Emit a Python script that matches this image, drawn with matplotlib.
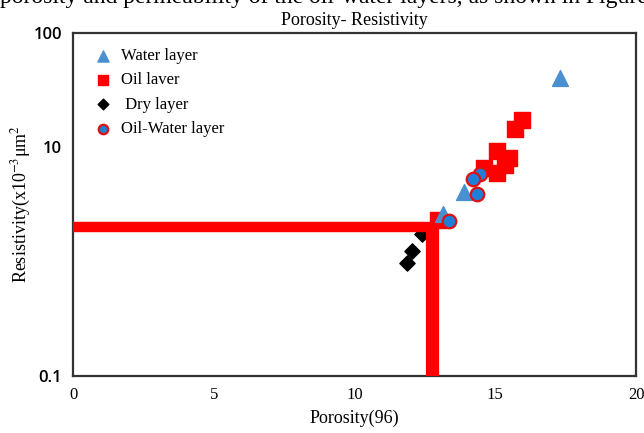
import matplotlib
matplotlib.use("Agg")
import matplotlib.pyplot as plt
from matplotlib.ticker import FixedLocator, NullLocator, FixedFormatter

plt.rcParams["mathtext.fontset"] = "stix"

# Porosity (%) and resistivity for each layer type
water_por = [17.3, 13.9, 13.15]
water_res = [40.0, 4.1, 2.6]

oil_por = [15.95, 15.7, 15.05, 15.5, 15.35, 15.05, 14.6, 12.95]
oil_res = [17.5, 14.5, 9.3, 8.0, 7.0, 6.0, 6.6, 2.3]

dry_por = [12.05, 11.85, 12.4]
dry_res = [1.25, 0.97, 1.75]

ow_por = [14.45, 14.2, 14.35, 13.35]
ow_res = [5.9, 5.25, 3.9, 2.25]

# Cut-off values
por_cutoff = 12.75
res_cutoff = 2.0

x_ticks = [0, 5, 10, 15, 20]
y_ticks = [0.1, 10, 100]
y_tick_labels = ["0.1", "10", "100"]

serif = "Liberation Serif"

fig = plt.figure(figsize=(6.44, 4.33), dpi=100)
ax = fig.add_axes([0.1134, 0.1316, 0.8742, 0.7922])

ax.set_xlim(0, 20)
ax.set_yscale("log")
ax.set_ylim(0.1, 100)

# cut-off lines
ax.plot([0, por_cutoff], [res_cutoff, res_cutoff], color="#ff0000", lw=7.5,
        solid_capstyle="butt", zorder=3)
ax.plot([por_cutoff, por_cutoff], [0.1, res_cutoff * 1.06], color="#ff0000", lw=9.5,
        solid_capstyle="butt", zorder=3)

ax.scatter(dry_por, dry_res, marker="D", s=60, color="black", zorder=2,
           label=" Dry layer")
ax.scatter(oil_por, oil_res, marker="s", s=125, color="#ff0000", zorder=2,
           label="Oil laver")
ax.scatter(water_por, water_res, marker="^", s=130, color="#4a90d0", zorder=4,
           label="Water layer")
ax.scatter(ow_por, ow_res, marker="o", s=95, facecolor="#1f7fd8",
           edgecolor="#e01010", linewidths=1.6, zorder=5,
           label="Oil-Water layer")

handles, labels = ax.get_legend_handles_labels()
order = [2, 1, 0, 3]
leg = ax.legend([handles[i] for i in order], [labels[i] for i in order],
                loc="upper left", bbox_to_anchor=(0.012, 0.985), frameon=False,
                prop={"family": serif, "size": 12}, labelspacing=0.5,
                handletextpad=0.3, markerscale=0.7, borderaxespad=0.2,
                handlelength=1.6)

ax.xaxis.set_major_locator(FixedLocator(x_ticks))
ax.yaxis.set_major_locator(FixedLocator(y_ticks))
ax.yaxis.set_major_formatter(FixedFormatter(y_tick_labels))
ax.yaxis.set_minor_locator(NullLocator())
ax.tick_params(axis="both", length=0)
ax.tick_params(axis="x", pad=8)
ax.tick_params(axis="y", pad=8)
for lab in ax.get_xticklabels():
    lab.set_fontfamily(serif)
    lab.set_fontsize(12)
for lab in ax.get_yticklabels():
    lab.set_fontfamily("Open Sans")
    lab.set_fontweight("semibold")
    lab.set_fontsize(12)

for sp in ax.spines.values():
    sp.set_linewidth(1.6)
    sp.set_color("#333333")

ax.set_xlabel("Porosity(96)", fontfamily=serif, fontsize=13, labelpad=5)
ax.set_ylabel("Resistivity(x10$^{-3}$μm$^{2}$", fontfamily=serif, fontsize=13,
              labelpad=0)
ax.set_title("Porosity- Resistivity", fontfamily=serif, fontsize=13, pad=6)

# running text of the surrounding page, cut by the top edge
fig.text(0.0, 0.992, "porosity and permeability of the oil-water layers, as shown in Figure",
         fontfamily=serif, fontsize=17, va="baseline", ha="left")

fig.savefig("out.png", dpi=100)
